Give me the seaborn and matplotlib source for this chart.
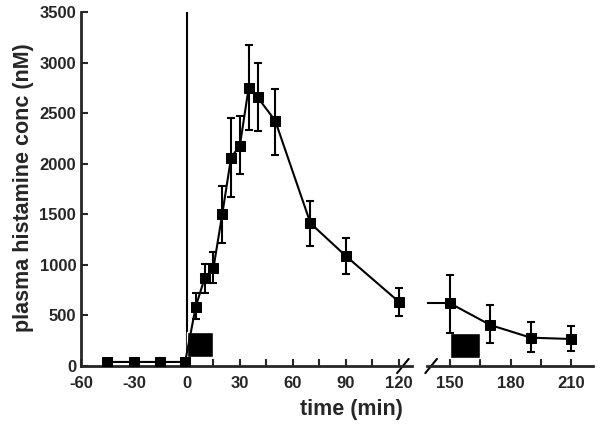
"""
Plasma histamine time course, broken x axis
"""
import numpy as np
import pandas as pd
import matplotlib
matplotlib.use("Agg")
import matplotlib.pyplot as plt
import seaborn as sns

# data
time_early = [-45, -30, -15, -1, 5, 10, 15, 20, 25, 30, 35, 40, 50, 70, 90, 120]
conc_early = [40, 40, 40, 40, 587, 867, 966, 1500, 2060, 2180, 2753, 2657, 2426, 1411, 1088, 636]
err_lo_early = [40, 40, 40, 40, 465, 725, 817, 1220, 1670, 1900, 2334, 2324, 2083, 1190, 910, 498]
err_hi_early = [40, 40, 40, 40, 720, 1010, 1130, 1780, 2450, 2473, 3175, 2994, 2736, 1632, 1269, 768]

time_late = [150, 170, 190, 210]
conc_late = [620, 405, 280, 267]
err_lo_late = [326, 230, 141, 151]
err_hi_late = [900, 603, 432, 399]

# black boxes (infusion periods)
box_start = [0, 150]
box_width = [15, 15]
box_low = [90, 80]
box_high = [336, 329]

xticks_left = [-60, -30, 0, 30, 60, 90, 120]
xticks_right = [150, 180, 210]
yticks = [0, 500, 1000, 1500, 2000, 2500, 3000, 3500]

sns.set_style("ticks")
plt.rcParams['font.family'] = ['Liberation Sans', 'DejaVu Sans']
plt.rcParams['font.weight'] = 'bold'

fig = plt.figure(figsize=(6.02, 4.28), dpi=100)
ax1 = fig.add_axes([81 / 602, 62 / 428, (412 - 81) / 602, (366 - 12) / 428])
ax2 = fig.add_axes([427 / 602, 62 / 428, (593 - 427) / 602, (366 - 12) / 428])

early = pd.DataFrame({'time': time_early, 'conc': conc_early})
late = pd.DataFrame({'time': time_late, 'conc': conc_late})

# vertical marker at time 0
ax1.axvline(0, color='black', lw=1.5, zorder=1)

for ax, df, lo, hi, start, width, low, high in [
    (ax1, early, err_lo_early, err_hi_early, box_start[0], box_width[0], box_low[0], box_high[0]),
    (ax2, late, err_lo_late, err_hi_late, box_start[1], box_width[1], box_low[1], box_high[1]),
]:
    ax.bar(start, high - low, bottom=low, width=width, align='edge',
           color='black', zorder=2)
    yerr = np.array([df['conc'] - np.array(lo), np.array(hi) - df['conc']])
    ax.errorbar(df['time'], df['conc'], yerr=yerr, fmt='none', ecolor='black',
                elinewidth=1.5, capsize=3, capthick=1.5, zorder=3)
    sns.lineplot(data=df, x='time', y='conc', ax=ax, color='black', lw=1.5,
                 marker='s', markersize=6.5, markeredgecolor='black', zorder=4)

# line continuing from the break into the first late point
ax2.plot([138.6, time_late[0]], [conc_late[0], conc_late[0]], color='black', lw=1.5)

ax1.set_xlim(-60, 127.5)
ax2.set_xlim(138.6, 220.8)
for ax in (ax1, ax2):
    ax.set_ylim(0, 3500)
    ax.set_xlabel('')
    ax.set_ylabel('')
    for s in ['top', 'right']:
        ax.spines[s].set_visible(False)
    ax.spines['bottom'].set_linewidth(2)
    ax.tick_params(direction='in', length=5, width=1.5, labelsize=12)
    ax.tick_params(axis='x', pad=7)

ax1.spines['left'].set_linewidth(2)
ax1.set_xticks(xticks_left)
ax1.set_xticks(np.arange(-45, 126, 30), minor=True)
ax1.set_yticks(yticks)
ax1.set_yticklabels([str(v) for v in yticks], fontweight='bold')
ax1.set_xticklabels([str(v) for v in xticks_left], fontweight='bold')
ax1.tick_params(which='minor', direction='in', length=5, width=1.5)

ax2.spines['left'].set_visible(False)
ax2.set_yticks([])
ax2.set_xticks(xticks_right)
ax2.set_xticks([165, 195], minor=True)
ax2.set_xticklabels([str(v) for v in xticks_right], fontweight='bold')
ax2.tick_params(which='minor', direction='in', length=5, width=1.5)

# break marks
kw = dict(color='black', lw=1.5, clip_on=False)
ax1.plot([0.955, 0.99], [-0.02, 0.02], transform=ax1.transAxes, **kw)
ax2.plot([-0.01, 0.06], [-0.02, 0.02], transform=ax2.transAxes, **kw)

fig.text(24 / 602, 1 - 188 / 428, 'plasma histamine conc (nM)', rotation=90,
         va='center', ha='center', fontsize=15.5, fontweight='bold')
fig.text(351 / 602, 1 - 410 / 428, 'time (min)', ha='center', va='center',
         fontsize=15.5, fontweight='bold')

fig.savefig('out.png', dpi=100)
